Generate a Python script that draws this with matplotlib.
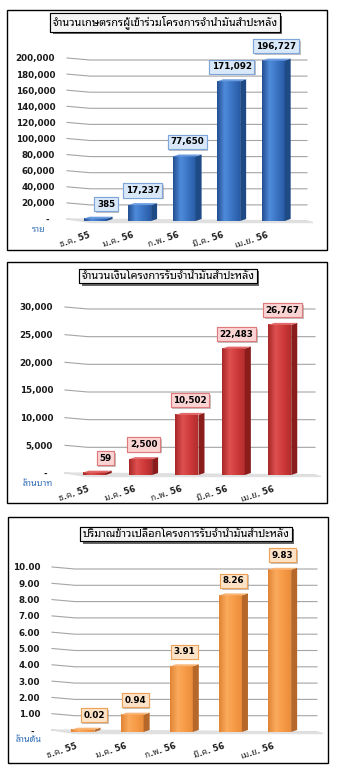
import matplotlib
matplotlib.use("Agg")
import numpy as np
import matplotlib.pyplot as plt
import matplotlib.patheffects as pe
from matplotlib.patches import Rectangle, Polygon
from matplotlib.colors import LinearSegmentedColormap
from matplotlib.ticker import FixedLocator, FuncFormatter

plt.rcParams['font.family'] = ['DejaVu Sans', 'Noto Sans Thai Looped']

months = ["ธ.ค. 55", "ม.ค. 56", "ก.พ. 56", "มี.ค. 56", "เม.ย. 56"]

farmers = [385, 17237, 77650, 171092, 196727]
money = [59, 2500, 10502, 22483, 26767]
tonnes = [0.02, 0.94, 3.91, 8.26, 9.83]

titles = [
    "จำนวนเกษตรกรผู้เข้าร่วมโครงการจำนำมันสำปะหลัง",
    "จำนวนเงินโครงการรับจำนำมันสำปะหลัง",
    "ปริมาณข้าวเปลือกโครงการรับจำนำมันสำปะหลัง",
]
units = ["ราย", "ล้านบาท", "ล้านตัน"]

W, H = 337, 780
fig = plt.figure(figsize=(W / 100, H / 100), dpi=100)


def fx(px):
    return px / W


def fy(py):
    return 1 - py / H


def fmt_int(v):
    return "{:,.0f}".format(v)


def fmt_dec(v):
    return "{:.2f}".format(v)


def shadow(text, off, color, alpha):
    text.get_bbox_patch().set_path_effects(
        [pe.withSimplePatchShadow(offset=off, shadow_rgbFace=color, alpha=alpha), pe.Normal()])


# panel layout in pixels: frame box, axes box (left, right, zero line, top line), title spot
panels = [
    dict(values=farmers, ymax=200000, step=20000, fmt=fmt_int,
         frame=(7, 10, 327, 250), ax=(67, 307, 219, 58),
         title_xy=(165, 22.5), unit_xy=(39, 229),
         shades=["#234f92", "#4f8bdb", "#3a73c2", "#2a5ca6"], side="#1e4a86", top="#6b9be0",
         lfc="#d9e8f9", lec="#7fa6d9"),
    dict(values=money, ymax=30000, step=5000, fmt=fmt_int,
         frame=(7, 262, 327, 503), ax=(65, 315, 473, 307),
         title_xy=(168, 276), unit_xy=(38, 484),
         shades=["#a82828", "#de5050", "#cf3a3a", "#b32d2d"], side="#8a1c1c", top="#e36a6a",
         lfc="#fad3d3", lec="#e07a7a"),
    dict(values=tonnes, ymax=10, step=1, fmt=fmt_dec,
         frame=(8, 517, 328, 763), ax=(52, 317, 730, 567),
         title_xy=(186, 534), unit_xy=(29, 740),
         shades=["#e08434", "#fbaa5c", "#f79b47", "#e98d3b"], side="#b5682a", top="#fab676",
         lfc="#fde3c6", lec="#eea35a"),
]

for i, p in enumerate(panels):
    x0, y0, x1, y1 = p["frame"]
    fig.patches.append(Rectangle((fx(x0), fy(y1)), fx(x1) - fx(x0), fy(y0) - fy(y1),
                                 transform=fig.transFigure, fill=False,
                                 ec="black", lw=1.0))

    left, right, zero, topv = p["ax"]
    ax = fig.add_axes([fx(left), fy(zero), fx(right) - fx(left), fy(topv) - fy(zero)])
    for s in ax.spines.values():
        s.set_visible(False)
    ax.patch.set_alpha(0)

    xpp = (4.76 + 0.63) / (right - left)   # data units per pixel
    ypp = p["ymax"] / (zero - topv)

    # gridlines bent slightly at the back wall
    ticks = [k * p["step"] for k in range(int(round(p["ymax"] / p["step"])) + 1)]
    for t in ticks:
        ax.plot([-0.63, -0.63 + 23 * xpp, 4.76], [t, t - 2 * ypp, t - 2 * ypp],
                color="#a5a5a5", lw=0.8, clip_on=False, zorder=1)
    ax.fill([-0.63, 4.76, 4.76 + 6 * xpp, -0.63 + 23 * xpp],
            [0, -2 * ypp, -3.5 * ypp, -3.5 * ypp], color="#e0e0e0", zorder=1, clip_on=False)

    ax.yaxis.set_major_locator(FixedLocator(ticks))
    ax.yaxis.set_major_formatter(FuncFormatter(
        lambda v, pos, f=p["fmt"]: "-  " if v == 0 else f(v)))
    ax.tick_params(axis="y", length=0, pad=8.5, labelsize=6.3)
    for lab in ax.get_yticklabels():
        lab.set_fontweight("bold")
        lab.set_color("#1a1a1a")
    ax.set_xticks([])

    cmap = LinearSegmentedColormap.from_list("face", p["shades"])
    grad = np.linspace(0, 1, 64).reshape(1, -1)
    bw = 23 * xpp
    d = 6 * xpp
    dy = 2 * ypp
    for k, v in enumerate(p["values"]):
        xl, xr = k - bw / 2, k + bw / 2
        base = -2 * ypp
        ax.imshow(grad, cmap=cmap, extent=(xl, xr, base, v), aspect="auto",
                  zorder=3, clip_on=False, interpolation="bilinear")
        ax.add_patch(Polygon([(xr, base), (xr + d, base + dy), (xr + d, v + dy), (xr, v)],
                             closed=True, fc=p["side"], ec="none", zorder=3, clip_on=False))
        ax.add_patch(Polygon([(xl, v), (xr, v), (xr + d, v + dy), (xl + d, v + dy)],
                             closed=True, fc=p["top"], ec="none", zorder=3, clip_on=False))

        lx = k + d / 2 + (8 * xpp if k == 0 else 0)
        t = ax.annotate(p["fmt"](v), (lx, v), xytext=(0, 10.5), textcoords="offset points",
                        ha="center", va="center", fontsize=6.3, fontweight="bold",
                        color="black", zorder=6, annotation_clip=False,
                        bbox=dict(boxstyle="square,pad=0.3", fc=p["lfc"], ec=p["lec"], lw=0.8))
        shadow(t, (1.2, -1.2), "#888888", 0.5)

        ax.annotate(months[k], (k, 0), xytext=(-5, -8.5), textcoords="offset points",
                    ha="right", va="top", rotation=18, rotation_mode="anchor",
                    fontsize=6.0, fontweight="bold", color="#1a1a1a",
                    annotation_clip=False)

    ax.set_xlim(-0.63, 4.76)
    ax.set_ylim(0, p["ymax"])

    ux, uy = p["unit_xy"]
    fig.text(fx(ux), fy(uy), units[i], ha="center", va="center",
             fontsize=6.5, color="#2f6db5")

    tx, ty = p["title_xy"]
    t = fig.text(fx(tx), fy(ty), titles[i], ha="center", va="center",
                 fontsize=7.9, fontweight="bold", color="black",
                 bbox=dict(boxstyle="square,pad=0.2", fc="#f4f4f4", ec="black", lw=0.8))
    shadow(t, (1.8, -1.8), "#555555", 0.9)

fig.savefig("out.png", dpi=100)
